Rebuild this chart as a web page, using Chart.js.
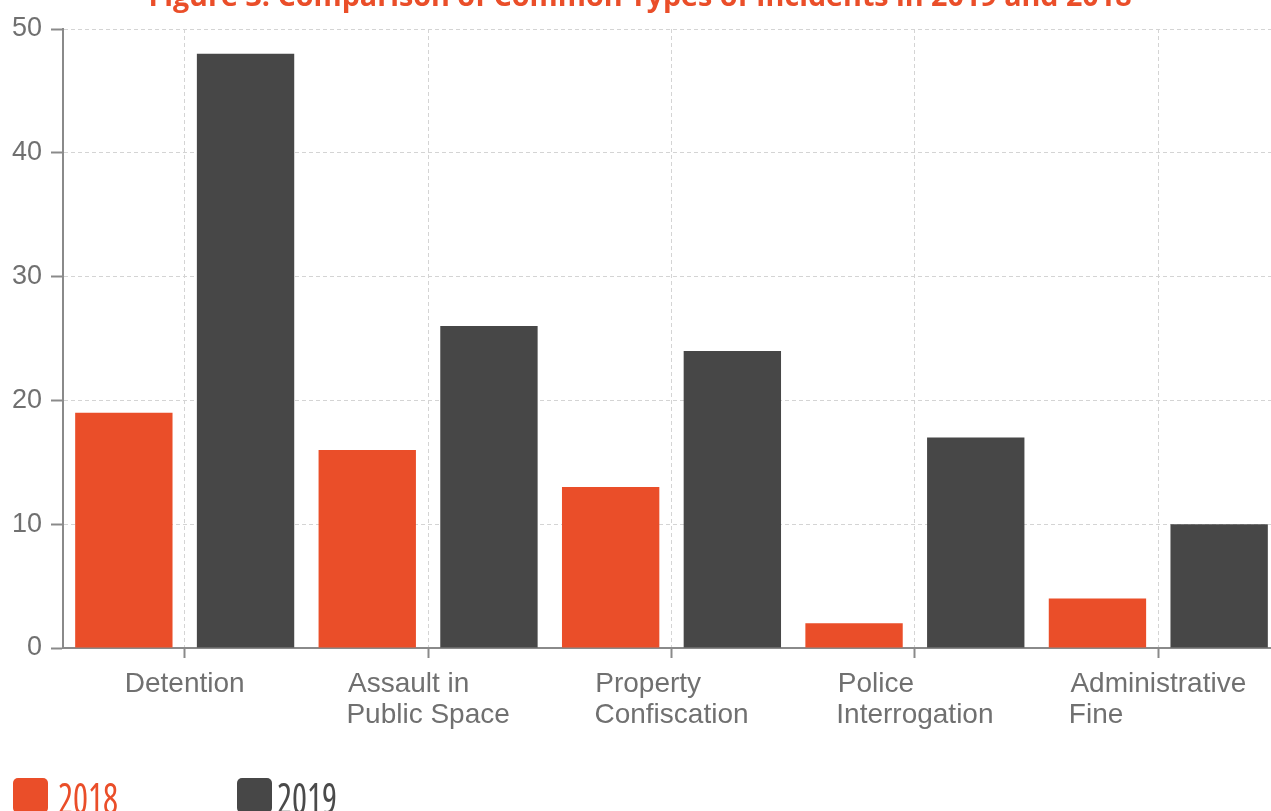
<!DOCTYPE html>
<html>
<head>
<meta charset="utf-8">
<script src="https://cdn.jsdelivr.net/npm/chart.js@4.4.1/dist/chart.umd.min.js"></script>
<style>
  html, body { margin: 0; padding: 0; background: #ffffff; overflow: hidden; width: 1271px; height: 811px; }
  #wrap { position: absolute; left: 0; top: -30px; width: 1280px; height: 768px; }
  #legend { position: absolute; left: 0; top: 0; width: 1271px; height: 811px; pointer-events: none; }
  .lg-box { position: absolute; top: 778px; width: 35px; height: 35px; border-radius: 5px; }
  .lg-text { position: absolute; top: 775px; font-family: 'Open Sans', sans-serif; font-stretch: condensed; font-weight: 400; font-size: 44px; line-height: 1; white-space: nowrap; transform-origin: 0 0; }
</style>
</head>
<body>
<div id="wrap"><canvas id="chart" width="1280" height="768"></canvas></div>
<div id="legend"></div>
<script>
// ---- data ----
const categories = [
  ['Detention'],
  ['Assault in', 'Public Space'],
  ['Property', 'Confiscation'],
  ['Police', 'Interrogation'],
  ['Administrative', 'Fine']
];
const seriesNames = ['2018', '2019'];
const values2018 = [19, 16, 13, 2, 4];
const values2019 = [48, 26, 24, 17, 10];
const yMin = 0;
const yMax = 50;
const yStep = 10;
const titleText = 'Figure 3: Comparison of Common Types of Incidents in 2019 and 2018';

// ---- style ----
const colors = ['#EA4E29', '#474747'];
const textColors = ['#EA4E29', '#4a4a4a'];
const xFont = { family: "'Liberation Sans', Arial, sans-serif", size: 28, lineHeight: 1.1 };
const yFont = { family: "'Liberation Sans', Arial, sans-serif", size: 27, lineHeight: 1.15 };
const axisColor = '#707070';
const lineColor = '#8a8a8a';
const gridColor = '#d4d4d4';

const mctx = document.createElement('canvas').getContext('2d');

// title size chosen so the title spans the same width as in the original
mctx.font = "bold 30px 'Open Sans'";
const titleSize = Math.round(30 * 982 / mctx.measureText(titleText).width * 10) / 10;

// pad lines of multi-line tick labels so the block is left-aligned while centred on the tick
function padLines(lines) {
  mctx.font = xFont.size + 'px ' + xFont.family;
  const widths = lines.map(l => mctx.measureText(l).width);
  const maxW = Math.max.apply(null, widths);
  const sp = mctx.measureText(' ').width;
  return lines.map((l, i) => l + ' '.repeat(Math.round((maxW - widths[i]) / sp)));
}

const htmlLegend = {
  id: 'htmlLegend',
  afterUpdate(chart) {
    const host = document.getElementById('legend');
    host.innerHTML = '';
    const items = chart.options.plugins.legend.labels.generateLabels(chart);
    const boxLefts = [13, 237];
    const textLefts = [58, 277];
    items.forEach((item, i) => {
      const box = document.createElement('div');
      box.className = 'lg-box';
      box.style.left = boxLefts[i] + 'px';
      box.style.background = item.fillStyle;
      const txt = document.createElement('div');
      txt.className = 'lg-text';
      txt.style.left = textLefts[i] + 'px';
      txt.style.color = textColors[i];
      txt.textContent = item.text;
      host.appendChild(box);
      host.appendChild(txt);
      const w = txt.getBoundingClientRect().width;
      txt.style.transform = 'scaleX(' + (60 / w).toFixed(3) + ')';
    });
  }
};

new Chart(document.getElementById('chart'), {
  type: 'bar',
  data: {
    labels: categories,
    datasets: [
      { label: seriesNames[0], data: values2018, backgroundColor: colors[0], borderWidth: 0 },
      { label: seriesNames[1], data: values2019, backgroundColor: colors[1], borderWidth: 0 }
    ]
  },
  options: {
    responsive: false,
    animation: false,
    devicePixelRatio: 1,
    layout: { padding: 0 },
    datasets: { bar: { categoryPercentage: 1.0, barPercentage: 0.8 } },
    plugins: {
      legend: { display: false },
      tooltip: { enabled: false },
      title: {
        display: true,
        text: titleText,
        color: '#EA4E29',
        font: { family: "'Open Sans', sans-serif", weight: 'bold', size: titleSize, lineHeight: '36px' },
        padding: { top: 9.5, bottom: 13.5 }
      }
    },
    scales: {
      x: {
        offset: true,
        afterFit(scale) { scale.height = 90; },
        grid: {
          offset: false,
          color: gridColor,
          lineWidth: 1,
          drawTicks: true,
          tickLength: 10,
          tickColor: lineColor,
          tickWidth: 2
        },
        border: { display: true, color: lineColor, width: 2, dash: [4, 3] },
        ticks: {
          color: axisColor,
          font: xFont,
          padding: 11,
          maxRotation: 0,
          autoSkip: false,
          callback: function (value, index) { return padLines(categories[index]); }
        }
      },
      y: {
        min: yMin,
        max: yMax,
        afterFit(scale) { scale.width = 63; },
        grid: {
          color: gridColor,
          lineWidth: 1,
          drawTicks: true,
          tickLength: 12,
          tickColor: lineColor,
          tickWidth: 2
        },
        border: { display: true, color: lineColor, width: 2, dash: [4, 3] },
        ticks: {
          stepSize: yStep,
          color: axisColor,
          font: yFont,
          padding: 9
        }
      }
    }
  },
  plugins: [htmlLegend]
});
</script>
</body>
</html>
